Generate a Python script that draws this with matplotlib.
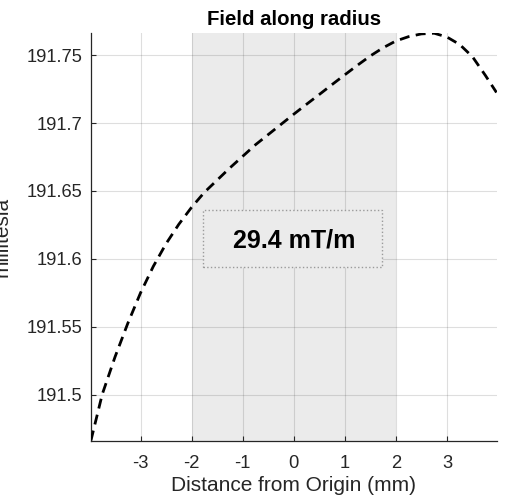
import matplotlib
matplotlib.use('Agg')
import matplotlib.pyplot as plt
from matplotlib.patches import Rectangle

plt.rcParams['font.family'] = ['Liberation Sans', 'DejaVu Sans']

# field profile (mm, millitesla)
distance = [-3.97, -3.75, -3.5, -3.25, -3.0, -2.75, -2.5, -2.25, -2.0,
            -1.75, -1.5, -1.25, -1.0, -0.75, -0.5, -0.25, 0.0,
            0.25, 0.5, 0.75, 1.0, 1.25, 1.5, 1.75, 2.0,
            2.25, 2.5, 2.75, 3.0, 3.25, 3.5, 3.75, 3.97]
field = [191.4665, 191.5003, 191.5278, 191.5525, 191.5750, 191.5945, 191.6112, 191.6255, 191.6380,
         191.6490, 191.6580, 191.6670, 191.6755, 191.6840, 191.6915, 191.6990, 191.7065,
         191.7138, 191.7210, 191.7283, 191.7355, 191.7426, 191.7494, 191.7554, 191.7604,
         191.7636, 191.7656, 191.7661, 191.7633, 191.7578, 191.7488, 191.7352, 191.7225]

region = [-2, 2]
gradient_label = '29.4 mT/m'
x_ticks = [-3, -2, -1, 0, 1, 2, 3]
y_ticks = [191.5, 191.55, 191.6, 191.65, 191.7, 191.75]
y_tick_labels = ['191.5', '191.55', '191.6', '191.65', '191.7', '191.75']

fig = plt.figure(figsize=(5.06, 4.99), dpi=100)
ax = fig.add_axes([0.1798, 0.1162, 0.8024, 0.8183])

ax.axvspan(region[0], region[1], color='#ebebeb', lw=0, zorder=1)
ax.plot(distance, field, color='black', lw=2.0, ls=(0, (3.6, 2.3)), zorder=3)

ax.set_xlim(-3.97, 3.98)
ax.set_ylim(191.466, 191.7665)
ax.set_xticks(x_ticks)
ax.set_xticklabels([str(t) for t in x_ticks])
ax.set_yticks(y_ticks)
ax.set_yticklabels(y_tick_labels)

ax.grid(True, color='#262626', alpha=0.15, lw=0.8)
ax.set_axisbelow('line')
for side in ['top', 'right']:
    ax.spines[side].set_visible(False)
for side in ['left', 'bottom']:
    ax.spines[side].set_color('#262626')
    ax.spines[side].set_linewidth(0.9)
ax.tick_params(direction='in', length=3.5, width=0.8, colors='#262626',
               labelsize=13.2, labelcolor='#262626')
ax.tick_params(axis='x', pad=10)
ax.tick_params(axis='y', pad=6)

ax.set_title('Field along radius', fontsize=14.7, fontweight='bold', pad=5.5)
ax.set_xlabel('Distance from Origin (mm)', fontsize=15, color='#262626', labelpad=3)
ax.set_ylabel('millitesla', fontsize=15, color='#262626')
ax.yaxis.set_label_coords(-0.195, 0.5)

box = Rectangle((0.276, 0.4265), 0.441, 0.1397, transform=ax.transAxes,
                facecolor='#ebebeb', edgecolor='#9a9a9a', ls=':', lw=1.0, zorder=4)
ax.add_patch(box)
ax.text(0.501, 0.473, gradient_label, transform=ax.transAxes, ha='center',
        va='baseline', fontsize=18, fontweight='bold', color='black', zorder=5)

fig.savefig('out.png', dpi=100)
